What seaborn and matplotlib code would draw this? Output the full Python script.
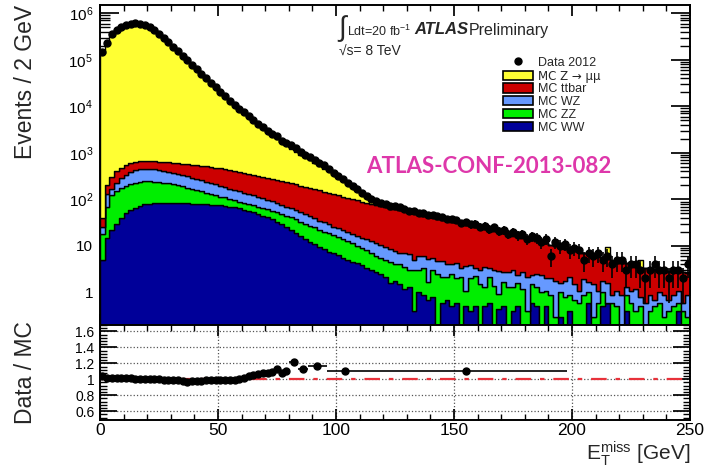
import numpy as np
import pandas as pd
import matplotlib
matplotlib.use('Agg')
import matplotlib.pyplot as plt
from matplotlib.patches import Patch
from matplotlib.lines import Line2D
from matplotlib.ticker import MultipleLocator, FixedLocator, FixedFormatter, FuncFormatter, LogLocator
import seaborn as sns

# 2 GeV bins from 0 to 250 GeV
bin_edges = np.arange(0, 252, 2)

# MC expectations per bin (125 bins)
z_mumu = [140000, 220000, 350000, 436000, 500000, 549000, 588000, 602000, 588000, 561000,
          500000, 426000, 354000, 288000, 239000, 194000, 158000, 125000, 100000, 79000,
          62500, 49600, 40200, 31900, 25800, 20400, 16500, 13100, 10600, 8500,
          6870, 5530, 4450, 3660, 3000, 2460, 2070, 1730, 1450, 1210,
          1010, 837, 714, 607, 516, 437, 369, 310, 260, 209,
          166, 130, 101, 76, 55, 36, 20, 11, 7, 4,
          3, 2.5, 20, 2, 1.5, 1.5, 1, 1, 1, 0.8,
          0.8, 0.6, 0.6, 0.5, 0.5, 0.5, 4, 0.4, 0.4, 0.3,
          0.3, 0.3, 0.3, 0.3, 0.2, 0.2, 0.2, 0.2, 0.2, 0.2,
          0.2, 0.2, 0.2, 0.2, 0.2, 0.2, 0.2, 0.2, 0.2, 0.2,
          0.2, 0.2, 0.2, 0.2, 0.2, 0.2, 0.2, 4, 0.2, 0.2,
          0.1, 0.1, 0.1, 0.1, 1.5, 0.1, 0.1, 0.1, 0.1, 0.1,
          0.1, 0.1, 0.1, 0.1, 0.1]
ttbar = [15, 70, 130, 170, 190, 200, 210, 210, 210, 210,
         213, 215, 220, 225, 233, 240, 245, 250, 255, 260,
         265, 267, 270, 270, 268, 267, 262, 258, 250, 242,
         235, 225, 217, 208, 200, 193, 186, 178, 171, 165,
         158, 152, 145, 139, 133, 127, 121, 115, 109, 104,
         98, 93, 88, 84, 79, 75, 71, 67, 64, 61,
         58, 55, 53, 51, 48, 45, 45, 41, 39, 38,
         36, 34, 32, 31, 29, 28, 27, 25, 23, 22,
         21, 20, 18, 17.5, 17, 16, 15, 13.5, 13.5, 12,
         12, 11, 10, 9.5, 9.3, 8.5, 8.2, 7.8, 7, 6.4,
         6.3, 6.2, 5, 5.1, 4.6, 4.6, 3.9, 3.7, 3.8, 3.3,
         3.3, 2.9, 2.7, 2.4, 2.6, 2.7, 2.3, 2.4, 2.0, 2.0,
         2.1, 1.9, 1.8, 2.1, 1.7]
wz = [7, 60, 45, 80, 115, 145, 165, 190, 210, 215,
      210, 205, 195, 187, 175, 165, 155, 145, 137, 127,
      117, 110, 100, 95, 88, 80, 73, 67, 63, 60,
      55, 52, 48, 45, 41, 37, 34, 31, 28, 25,
      23, 21, 20, 18, 16, 14, 13, 12, 10.5, 9,
      8.5, 8, 7, 6.5, 6.5, 6, 6, 5.5, 5.3, 5,
      4.5, 4.0, 3.8, 3.0, 3.6, 3.5, 2.0, 3.0, 2.6, 3.5,
      2.4, 2.2, 2.6, 2.0, 1.6, 2.4, 1.2, 2.6, 1.8, 1.0,
      1.6, 2.2, 1.2, 1.6, 2.0, 1.0, 1.4, 1.8, 0.8, 1.5,
      1.7, 0.9, 1.2, 1.4, 0.9, 1.1, 1.5, 0.6, 1.0, 1.2,
      0.8, 0.5, 1.0, 0.7, 1.2, 0.5, 0.8, 1.0, 0.3, 0.6,
      0.7, 0.4, 0.5, 0.8, 0.3, 0.6, 0.5, 0.2, 0.4, 0.6,
      0.3, 0.4, 0.5, 0.2, 0.6]
zz = [13, 55, 103, 120, 135, 145, 157, 164, 167, 167,
      165, 158, 152, 146, 136, 127, 118, 107, 96, 88,
      77, 69, 62, 53, 47, 41, 38, 33, 30, 26,
      25, 23, 22, 21, 21, 21, 20, 20, 20, 20,
      19, 18, 17, 16, 15, 14, 12.5, 11.5, 11, 10,
      9, 8.5, 8, 7, 5.8, 5.2, 4.7, 4, 3.4, 3,
      2.8, 2.9, 2.2, 2.6, 2.4, 1.8, 2.7, 2.0, 2.5, 1.0,
      2.2, 2.5, 1.6, 1.4, 2.0, 1.4, 2.2, 0.6, 1.6, 1.8,
      1.5, 0.8, 1.6, 1.4, 0.5, 1.2, 1.3, 0.9, 1.1, 1.2,
      0.4, 0.9, 0.8, 1.0, 0.6, 0.9, 0.3, 0.7, 0.8, 0.5,
      0.7, 0.6, 0.9, 0.4, 0.3, 0.6, 0.5, 0, 0.6, 0.5,
      0.2, 0.5, 0.6, 0.4, 0.5, 0, 0.4, 0.5, 0.6, 0.3,
      0.4, 0.5, 0.2, 0.4, 0.3]
ww = [5, 15, 22, 30, 40, 50, 58, 66, 73, 78,
      80, 82, 83, 82, 84, 83, 82, 83, 82, 80,
      81, 79, 78, 77, 75, 74, 72, 70, 67, 64,
      60, 57, 53, 49, 45, 41, 37, 33, 29, 25,
      22, 19, 16, 14, 12, 11, 9.5, 8.5, 7.5, 7,
      6.5, 5.5, 5, 4.5, 4.2, 3.8, 3.3, 3, 2.8, 2.5,
      2.2, 1.6, 1.8, 1.5, 1.2, 1.3, 0.4, 1.0, 0.9, 0.7,
      0.8, 0, 0.6, 0.7, 0.5, 0.6, 0, 0.5, 0.4, 0.5,
      0, 0.5, 0.6, 0, 0.45, 0.5, 0, 0.4, 0.5, 0,
      0, 0.6, 0.5, 0, 0.5, 0, 0, 0.3, 0, 0.4,
      0, 0, 0, 0.6, 0, 0, 0.5, 0.6, 0, 0,
      0, 0.4, 0, 0, 0, 0, 0, 0, 0, 0,
      0, 0, 0.4, 0, 0]

# Data 2012 per bin
data_2012 = [145000, 228000, 361000, 445000, 508000, 556000, 592000, 605000, 590000, 563000,
             502000, 428000, 356000, 289000, 238000, 192000, 155000, 123000, 97000, 77000,
             61800, 49000, 39800, 31700, 25800, 20600, 16700, 13300, 10800, 8900,
             7400, 6120, 5070, 4260, 3580, 3000, 2580, 2250, 1840, 1600,
             1490, 1270, 1030, 900, 810, 705, 615, 535, 440, 375,
             318, 272, 230, 197, 167, 140, 116, 100, 92, 84,
             78, 73, 72, 67, 63, 57, 57, 52, 51, 47,
             46, 43, 42, 38, 37, 36, 31, 33, 29, 30,
             26, 27, 23, 25, 21, 22, 18, 20, 17, 18,
             14, 16, 15, 12, 14, 6, 12, 10, 11, 8,
             9, 8, 5, 7, 6, 7, 5, 6, 4, 5,
             5, 3, 4, 4, 3, 2, 3, 4, 3, 3,
             2, 3, 3, 2, 4]

# Data / MC ratio (2 GeV bins up to 80 GeV, then wider bins)
ratio_lo = list(range(0, 80, 2)) + [80, 84, 88, 96, 112]
ratio_hi = list(range(2, 82, 2)) + [84, 88, 96, 112, 198]
ratio_val = [1.035, 1.02, 1.02, 1.015, 1.015, 1.01, 1.01, 1.005, 1.0, 1.005,
             1.0, 1.0, 1.0, 0.995, 0.99, 0.985, 0.985, 0.98, 0.965, 0.975,
             0.98, 0.98, 0.985, 0.985, 0.99, 0.995, 0.99, 0.985, 0.99, 1.0,
             1.02, 1.04, 1.055, 1.065, 1.075, 1.085, 1.095, 1.13, 1.085, 1.11,
             1.215, 1.13, 1.17, 1.105, 1.10]
ratio_err = [0.004] * 30 + [0.01] * 10 + [0.02, 0.02, 0.02, 0.02, 0.02]

proc_names = ['MC Z \u2192 \u03bc\u03bc', 'MC ttbar', 'MC WZ', 'MC ZZ', 'MC WW']
proc_colors = ['#FFFF33', '#CC0000', '#6699FF', '#00EE00', '#000099']

centers = bin_edges[:-1] + 1
mc = pd.concat([pd.DataFrame({'met': centers, 'events': vals, 'process': name})
                for name, vals in zip(proc_names, [z_mumu, ttbar, wz, zz, ww])],
               ignore_index=True)

sns.set_theme(style='ticks')
plt.rcParams['font.family'] = ['Liberation Sans', 'DejaVu Sans']
plt.rcParams['mathtext.fontset'] = 'custom'
plt.rcParams['mathtext.rm'] = 'Liberation Sans'
plt.rcParams['mathtext.it'] = 'Liberation Sans:italic'
plt.rcParams['mathtext.bf'] = 'Liberation Sans:bold'

W, H = 704, 468
fig = plt.figure(figsize=(W / 100, H / 100), dpi=100)
ax1 = fig.add_axes([100 / W, 1 - 325 / H, 590 / W, 320 / H])
ax2 = fig.add_axes([100 / W, 1 - 420 / H, 590 / W, 95 / H])

# stacked MC
sns.histplot(data=mc, x='met', weights='events', hue='process', hue_order=proc_names,
             multiple='stack', element='step', bins=[float(b) for b in bin_edges],
             palette=dict(zip(proc_names, proc_colors)), alpha=1,
             edgecolor='black', linewidth=1.0, legend=False, ax=ax1)

# data points
data_arr = np.array(data_2012, dtype=float)
ax1.errorbar(centers, data_arr, xerr=1, yerr=np.sqrt(data_arr), fmt='o', color='black',
             ms=5, elinewidth=1.2, capsize=0, zorder=5)

ax1.set_yscale('log')
ax1.set_ylim(0.2, 1.5e6)
ax1.set_xlim(0, 250)
ax1.set_xlabel('')
ax1.set_ylabel('Events / 2 GeV', fontsize=16.5, loc='top')
ax1.yaxis.set_label_coords(-0.106, 1.0)
ax1.yaxis.set_major_locator(LogLocator(base=10, numticks=12))
ax1.yaxis.set_minor_locator(LogLocator(base=10, subs=np.arange(2, 10), numticks=12))


def log_label(v, pos):
    if v < 0.5:
        return ''
    if v < 5:
        return '1'
    if v < 50:
        return '10'
    return r'$10^{%d}$' % round(np.log10(v))


ax1.yaxis.set_major_formatter(FuncFormatter(log_label))
ax1.tick_params(axis='y', which='major', length=14, labelsize=11, pad=5)
ax1.tick_params(axis='y', which='minor', length=7)
ax1.tick_params(axis='x', labelbottom=False)

# ratio panel
r_lo = np.array(ratio_lo, dtype=float)
r_hi = np.array(ratio_hi, dtype=float)
ax2.axhline(1.0, color='#E8313A', lw=1.6, ls=(0, (7, 4, 2, 4)), zorder=2)
ax2.errorbar((r_lo + r_hi) / 2, ratio_val, xerr=(r_hi - r_lo) / 2, yerr=ratio_err, fmt='o',
             color='black', ms=5, elinewidth=1.2, capsize=0, zorder=5)
ax2.set_xlim(0, 250)
ax2.set_ylim(0.49, 1.68)
ax2.yaxis.set_major_locator(FixedLocator([0.6, 0.8, 1.0, 1.2, 1.4, 1.6]))
ax2.yaxis.set_major_formatter(FixedFormatter(['0.6', '0.8', '1', '1.2', '1.4', '1.6']))
ax2.yaxis.set_minor_locator(MultipleLocator(0.04))
ax2.grid(True, which='major', ls=':', color='#555555', lw=0.9)
ax2.set_ylabel('Data / MC', fontsize=16.5)
ax2.yaxis.set_label_coords(-0.106, 0.5)
ax2.set_xlabel(r'$\mathrm{E}_{\mathrm{T}}^{\mathrm{miss}}$ [GeV]', fontsize=15, loc='right')
ax2.xaxis.set_label_coords(1.0, -0.2)
ax2.tick_params(axis='y', which='major', length=12, labelsize=10, pad=4)
ax2.tick_params(axis='y', which='minor', length=5)
ax2.tick_params(axis='x', labelsize=12.5, pad=2)

for ax in (ax1, ax2):
    ax.tick_params(which='both', direction='in', top=True, right=True, colors='black')
    ax.xaxis.set_major_locator(MultipleLocator(50))
    ax.xaxis.set_minor_locator(MultipleLocator(10))
    ax.tick_params(axis='x', which='major', length=8)
    ax.tick_params(axis='x', which='minor', length=4)
    for s in ax.spines.values():
        s.set_linewidth(1.4)
        s.set_color('black')
        s.set_zorder(10)

# legend
handles = [Line2D([], [], marker='o', color='black', ls='', ms=5)]
handles += [Patch(facecolor=c, edgecolor='black', lw=1.2) for c in proc_colors]
leg = ax1.legend(handles, ['Data 2012'] + proc_names, loc='upper left', bbox_to_anchor=(0.683, 0.838),
                 frameon=False, fontsize=9, handlelength=2.4, handleheight=0.75,
                 handletextpad=0.4, labelspacing=0.06, borderpad=0, borderaxespad=0)
# the arrow glyph is tiny in Liberation Sans
leg.get_texts()[1].set_family(['DejaVu Sans'])
leg.get_texts()[1].set_fontsize(8.5)


def px(x, y):
    return x / W, 1 - y / H


fig.text(*px(338, 29), '\u222b', fontsize=20, va='center', ha='left')
fig.text(*px(347, 31), 'Ldt=20 fb$^{-1}$', fontsize=9, va='center', ha='left')
fig.text(*px(339, 52), '\u221as= 8 TeV', fontsize=10, va='center', ha='left')
fig.text(*px(414, 30), 'ATLAS', fontsize=12, fontweight='bold', fontstyle='italic', va='center', ha='left')
fig.text(*px(469, 30), 'Preliminary', fontsize=11.5, va='center', ha='left')
fig.text(*px(366, 166), 'ATLAS-CONF-2013-082', fontsize=16, fontweight='bold', color='#DE37AA',
         family=['Lato', 'DejaVu Sans'], va='center', ha='left')

fig.savefig('out.png', dpi=100)
